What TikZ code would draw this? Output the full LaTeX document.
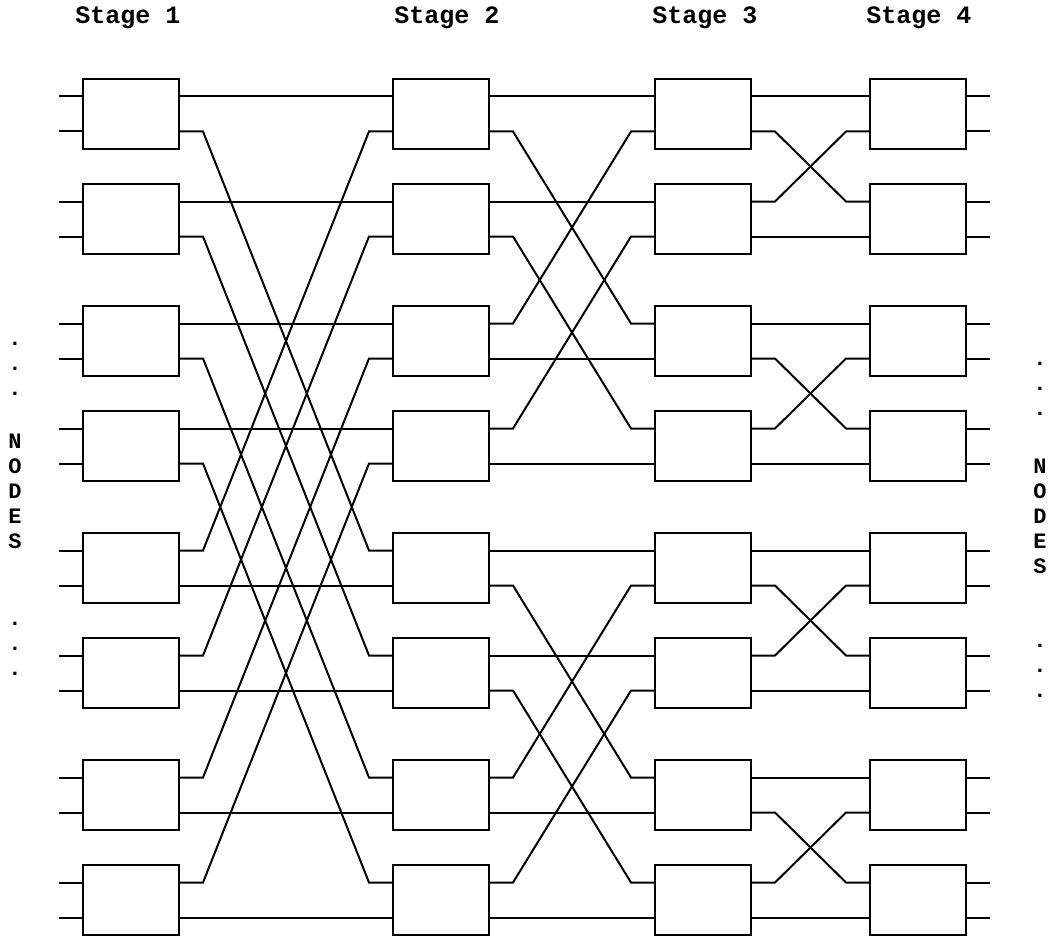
\documentclass[tikz,border=0pt]{standalone}
\usepackage{fontspec}
\setmonofont{Liberation Mono}
\usetikzlibrary{calc}
\tikzset{
  switch box/.style={draw,line width=1pt,fill=white,minimum width=48pt,minimum height=35pt,inner sep=0pt},
  link/.style={line width=1pt,line join=miter},
  stage label/.style={font=\fontsize{12.5}{12.5}\selectfont\ttfamily\bfseries,anchor=base west,inner sep=0pt},
  side label/.style={font=\fontsize{11}{12.5}\selectfont\ttfamily\bfseries,align=center,anchor=base,inner sep=0pt}
}
\begin{document}
\begin{tikzpicture}[x=0.5pt,y=-0.5pt]
\useasboundingbox (0,0) rectangle (1052,936);
% stage headings
\node[stage label] (head1) at (75,24) {Stage 1};
\node[stage label] (head2) at (394,24) {Stage 2};
\node[stage label] (head3) at (652,24) {Stage 3};
\node[stage label] (head4) at (866,24) {Stage 4};
% switch boxes with their two input and two output ports
\foreach \s/\x in {1/131,2/441,3/703,4/918}{
  \foreach \b in {0,...,7}{
    \pgfmathsetmacro{\y}{114+227*floor(\b/2)+105*mod(\b,2)}
    \pgfmathtruncatemacro{\pa}{2*\b}
    \pgfmathtruncatemacro{\pb}{2*\b+1}
    \node[switch box] (s\s b\b) at (\x,\y) {};
    \coordinate (s\s-in\pa) at ($(s\s b\b.west)+(0,-17.5)$);
    \coordinate (s\s-in\pb) at ($(s\s b\b.west)+(0,17.5)$);
    \coordinate (s\s-out\pa) at ($(s\s b\b.east)+(0,-17.5)$);
    \coordinate (s\s-out\pb) at ($(s\s b\b.east)+(0,17.5)$);
  }
}
% open ends on both sides
\foreach \p in {0,...,15}{
  \coordinate (left\p) at ($(s1-in\p)+(-23,0)$);
  \coordinate (right\p) at ($(s4-out\p)+(23,0)$);
  \draw[link] (left\p) -- (s1-in\p);
  \draw[link] (s4-out\p) -- (right\p);
}
% butterfly links between stages (swap bit k with bit 0)
\foreach \s/\k in {1/3,2/2,3/1}{
  \pgfmathtruncatemacro{\t}{\s+1}
  \foreach \p in {0,...,15}{
    \pgfmathtruncatemacro{\q}{\p+(mod(\p,2)-mod(floor(\p/2^\k),2))*(2^\k-1)}
    \ifnum\q=\p
      \draw[link] (s\s-out\p) -- (s\t-in\q);
    \else
      \draw[link] (s\s-out\p) -- ++(23,0) -- ($(s\t-in\q)+(-23,0)$) -- (s\t-in\q);
    \fi
  }
}
% side labels (anchored at the baseline of their last line)
\node[side label] (ldots1) at (15,395) {.\\.\\.};
\node[side label] (lnodes) at (15,548) {N\\O\\D\\E\\S};
\node[side label] (ldots2) at (15,675) {.\\.\\.};
\node[side label] (rdots1) at (1040,415) {.\\.\\.};
\node[side label] (rnodes) at (1040,573) {N\\O\\D\\E\\S};
\node[side label] (rdots2) at (1040,697) {.\\.\\.};
\end{tikzpicture}
\end{document}
